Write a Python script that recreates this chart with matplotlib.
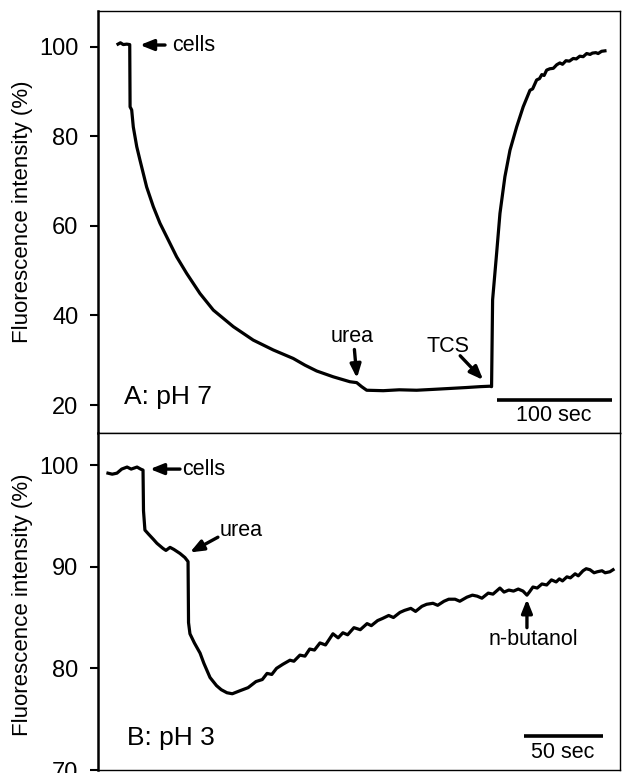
import matplotlib.pyplot as plt

plt.rcParams['font.family'] = ['Liberation Sans', 'DejaVu Sans']

# panel A: pH 7 (time in s, fluorescence in %)
t_a = [17.4, 19.5, 22, 25, 27.6, 27.9, 29.3, 30.7, 33.7, 36.5, 42.3, 48.1, 53.9,
       59.7, 68.4, 77.1, 88.7, 100.3, 117.7, 135, 152.4, 169.8, 180, 190.2, 204.6,
       219.1, 225, 229.3, 233.7, 248.1, 262, 277.1, 292, 306.1, 320, 332.2, 340.9,
       342.3, 343.2, 346.7, 349.6, 353.9, 358.3, 364.1, 369.8, 375.7, 378, 381.5,
       384, 386, 388, 390.2, 393, 396, 399, 401.7, 404, 407, 410, 413.3, 416, 419,
       422, 425, 428, 430, 433, 435, 438, 440.9]
v_a = [100.6, 100.9, 100.5, 100.6, 100.5, 86.6, 85.9, 82.1, 77.7, 74.7, 68.7, 64.3, 60.6,
       57.6, 53.1, 49.4, 44.9, 41.2, 37.5, 34.5, 32.3, 30.4, 28.9, 27.6, 26.3,
       25.2, 25.0, 24.1, 23.3, 23.2, 23.4, 23.3, 23.5, 23.7, 23.9, 24.1, 24.2,
       24.1, 43.5, 53.9, 62.8, 71.0, 76.9, 82.1, 86.6, 90.3, 90.6, 92.6,
       92.9, 93.8, 93.6, 94.8, 95.1, 95.2, 96.0, 96.4, 96.1, 96.9, 96.8, 97.4, 97.3, 97.9,
       97.8, 98.5, 98.3, 98.6, 98.7, 98.5, 99.0, 99.1]

# panel B: pH 3
t_b = [6.3, 9, 12, 15, 18.4, 21, 24.7, 27, 28.5, 28.8, 29.7, 32, 35, 37.3, 41.1, 43,
       45.6, 48, 51.9, 55, 57, 57.3, 58.2, 61, 64.6, 67, 70.9, 75, 78, 81.6, 85, 89.9,
       95, 100, 104, 107, 110, 113, 117, 121.5, 124, 127.8, 131, 134, 137, 140.5, 144,
       148.7, 152, 155, 158, 162, 166, 170.3, 173, 177, 180, 184, 187, 191.1, 194, 198,
       201, 205, 208, 212, 215, 219, 222, 226, 229, 233.5, 237, 240, 243, 247, 250,
       254.4, 257, 260, 263, 266, 269, 271.5, 273, 275.3, 278, 281, 284, 287, 290, 292,
       294, 296.8, 299, 302, 304, 307, 309, 311.4, 314, 316, 319, 321, 324, 326]
v_b = [99.2, 99.1, 99.2, 99.6, 99.8, 99.6, 99.8, 99.6, 99.5, 95.5, 93.6, 93.2, 92.7, 92.3,
       91.8, 91.6, 91.9, 91.7, 91.3, 90.9, 90.5, 84.5, 83.4, 82.5, 81.5, 80.5, 79.1, 78.3,
       77.9, 77.6, 77.5, 77.8, 78.1, 78.7, 78.9, 79.5, 79.4, 80.0, 80.4, 80.8, 80.7, 81.3,
       81.2, 81.9, 81.8, 82.5, 82.3, 83.4, 83.0, 83.5, 83.3, 84.0, 83.8, 84.4, 84.2, 84.7,
       84.9, 85.2, 85.0, 85.5, 85.7, 85.9, 85.6, 86.1, 86.3, 86.4, 86.2, 86.6, 86.8, 86.8,
       86.6, 87.0, 87.2, 87.1, 86.9, 87.4, 87.3, 87.9, 87.5, 87.7, 87.6, 87.8, 87.6, 87.2,
       87.5, 88.0, 87.9, 88.3, 88.2, 88.7, 88.5, 88.8, 88.6, 89.0, 88.9, 89.3, 89.1, 89.6,
       89.8, 89.7, 89.4, 89.5, 89.6, 89.4, 89.5, 89.7]

ticks_a = [20, 40, 60, 80, 100]
ticks_b = [70, 80, 90, 100]

W, H = 624, 773
fig = plt.figure(figsize=(W / 100, H / 100), dpi=100)
ax1 = fig.add_axes([98 / W, 1 - 433 / H, 522 / W, 422 / H])
ax2 = fig.add_axes([98 / W, 1 - 770 / H, 522 / W, 337 / H])

arrow = dict(arrowstyle='-|>,head_length=0.8,head_width=0.32', lw=2.4, color='black',
             shrinkA=0, shrinkB=0)

for ax, ticks, ylim, xlim in [(ax1, ticks_a, (13.75, 108.0), (0, 454)),
                              (ax2, ticks_b, (70, 103.15), (0, 330.4))]:
    ax.set_xlim(*xlim)
    ax.set_ylim(*ylim)
    ax.set_yticks(ticks)
    ax.set_xticks([])
    ax.tick_params(axis='y', direction='out', length=6, width=1.5, pad=8, labelsize=17)
    for s in ['top', 'right', 'bottom']:
        ax.spines[s].set_linewidth(1.0)
    ax.spines['left'].set_linewidth(1.8)
    ax.set_ylabel('Fluorescence intensity (%)', fontsize=16)

ax1.yaxis.set_label_coords(-0.125, 0.524)
ax2.yaxis.set_label_coords(-0.125, 0.49)

ax1.plot(t_a, v_a, color='black', lw=2.3)
ax2.plot(t_b, v_b, color='black', lw=2.3)

# panel A annotations
ax1.annotate('', xy=(36.5, 100.4), xytext=(58.3, 100.4), arrowprops=arrow)
ax1.text(64.3, 100.4, 'cells', fontsize=15.5, va='center', ha='left')
ax1.annotate('', xy=(225.2, 26.0), xytext=(223.0, 32.4), arrowprops=arrow)
ax1.text(220.9, 35.4, 'urea', fontsize=15.5, va='center', ha='center')
ax1.annotate('', xy=(335, 25.6), xytext=(315, 31.0), arrowprops=arrow)
ax1.text(304, 33.1, 'TCS', fontsize=15.5, va='center', ha='center')
ax1.plot([347, 447], [21.1, 21.1], color='black', lw=2.6, solid_capstyle='butt')
ax1.text(396, 17.6, '100 sec', fontsize=15.5, va='center', ha='center')
ax1.text(0.05, 0.085, 'A: pH 7', fontsize=19, va='center', ha='left',
         transform=ax1.transAxes)

# panel B annotations
ax2.annotate('', xy=(32.9, 99.6), xytext=(51.9, 99.6), arrowprops=arrow)
ax2.text(53.2, 99.6, 'cells', fontsize=15.5, va='center', ha='left')
ax2.annotate('', xy=(58.2, 91.4), xytext=(75.9, 92.9), arrowprops=arrow)
ax2.text(77.2, 93.6, 'urea', fontsize=15.5, va='center', ha='left')
ax2.annotate('', xy=(271.5, 86.8), xytext=(271.5, 84.0), arrowprops=arrow)
ax2.text(275.3, 82.8, 'n-butanol', fontsize=15.5, va='center', ha='center')
ax2.plot([269.6, 319.6], [73.3, 73.3], color='black', lw=2.6, solid_capstyle='butt')
ax2.text(294.3, 71.7, '50 sec', fontsize=15.5, va='center', ha='center')
ax2.text(0.056, 0.095, 'B: pH 3', fontsize=19, va='center', ha='left',
         transform=ax2.transAxes)

fig.savefig('out.png', dpi=100)
